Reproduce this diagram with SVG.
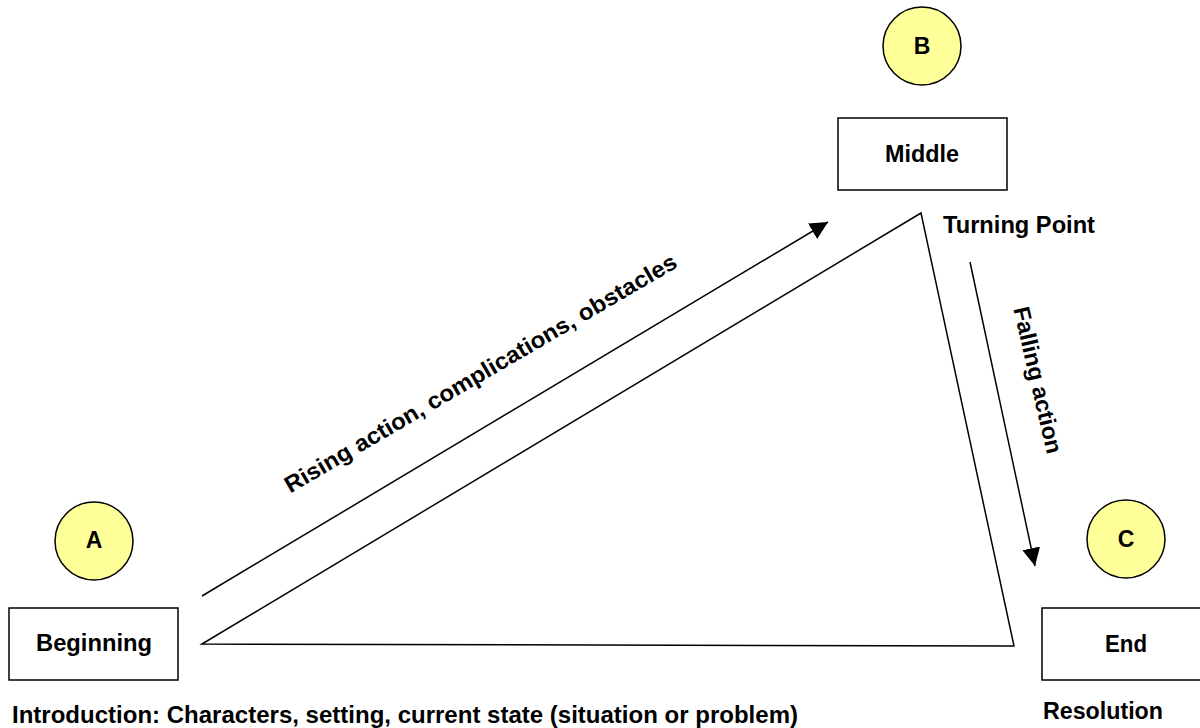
<svg xmlns="http://www.w3.org/2000/svg" width="1200" height="728" viewBox="0 0 1200 728">
<style>
  .t { font-family: "Liberation Sans", Arial, sans-serif; font-weight: bold; font-size: 23px; fill: #000; }
  .box { fill: #fff; stroke: #000; stroke-width: 1.5; }
  .circ { fill: #FFFF99; stroke: #000; stroke-width: 1.5; }
  .ln { fill: none; stroke: #000; stroke-width: 1.5; }
</style>
<defs>
  <marker id="arrow" viewBox="0 0 10 10" refX="10" refY="5" markerWidth="18" markerHeight="18" markerUnits="userSpaceOnUse" orient="auto">
    <path d="M0,0 L10,5 L0,10 z" fill="#000"/>
  </marker>
</defs>
<rect width="1200" height="728" fill="#fff"/>

<g id="connectors">
  <polygon class="ln" points="202,644 921,213 1014,646"/>
  <line class="ln" x1="202" y1="596" x2="828" y2="222" marker-end="url(#arrow)"/>
  <line class="ln" x1="970" y1="262" x2="1035" y2="566" marker-end="url(#arrow)"/>
  <text class="t" transform="translate(484.5,380) rotate(-30.3)" text-anchor="middle" textLength="450" lengthAdjust="spacingAndGlyphs">Rising action, complications, obstacles</text>
  <text class="t" transform="translate(1038,380) rotate(77)" x="0" y="8" text-anchor="middle" textLength="150" lengthAdjust="spacingAndGlyphs">Falling action</text>
</g>

<g id="node-a">
  <circle class="circ" cx="94" cy="541" r="39"/>
  <text class="t" x="94" y="548" text-anchor="middle">A</text>
</g>
<g id="node-beginning">
  <rect class="box" x="9" y="608" width="169" height="72"/>
  <text class="t" x="94" y="651" text-anchor="middle" textLength="116" lengthAdjust="spacingAndGlyphs">Beginning</text>
</g>
<g id="label-intro">
  <text class="t" x="12" y="723" textLength="786" lengthAdjust="spacingAndGlyphs">Introduction: Characters, setting, current state (situation or problem)</text>
</g>

<g id="node-b">
  <circle class="circ" cx="922" cy="46" r="39"/>
  <text class="t" x="922" y="54" text-anchor="middle">B</text>
</g>
<g id="node-middle">
  <rect class="box" x="838" y="118" width="169" height="72"/>
  <text class="t" x="922" y="162" text-anchor="middle" textLength="74" lengthAdjust="spacingAndGlyphs">Middle</text>
</g>
<g id="label-turning">
  <text class="t" x="943" y="233" textLength="152" lengthAdjust="spacingAndGlyphs">Turning Point</text>
</g>

<g id="node-c">
  <circle class="circ" cx="1126" cy="539" r="39"/>
  <text class="t" x="1126" y="547" text-anchor="middle">C</text>
</g>
<g id="node-end">
  <rect class="box" x="1042" y="608" width="168" height="72"/>
  <text class="t" x="1126" y="652" text-anchor="middle" textLength="42" lengthAdjust="spacingAndGlyphs">End</text>
</g>
<g id="label-resolution">
  <text class="t" x="1043" y="719" textLength="120" lengthAdjust="spacingAndGlyphs">Resolution</text>
</g>
</svg>
